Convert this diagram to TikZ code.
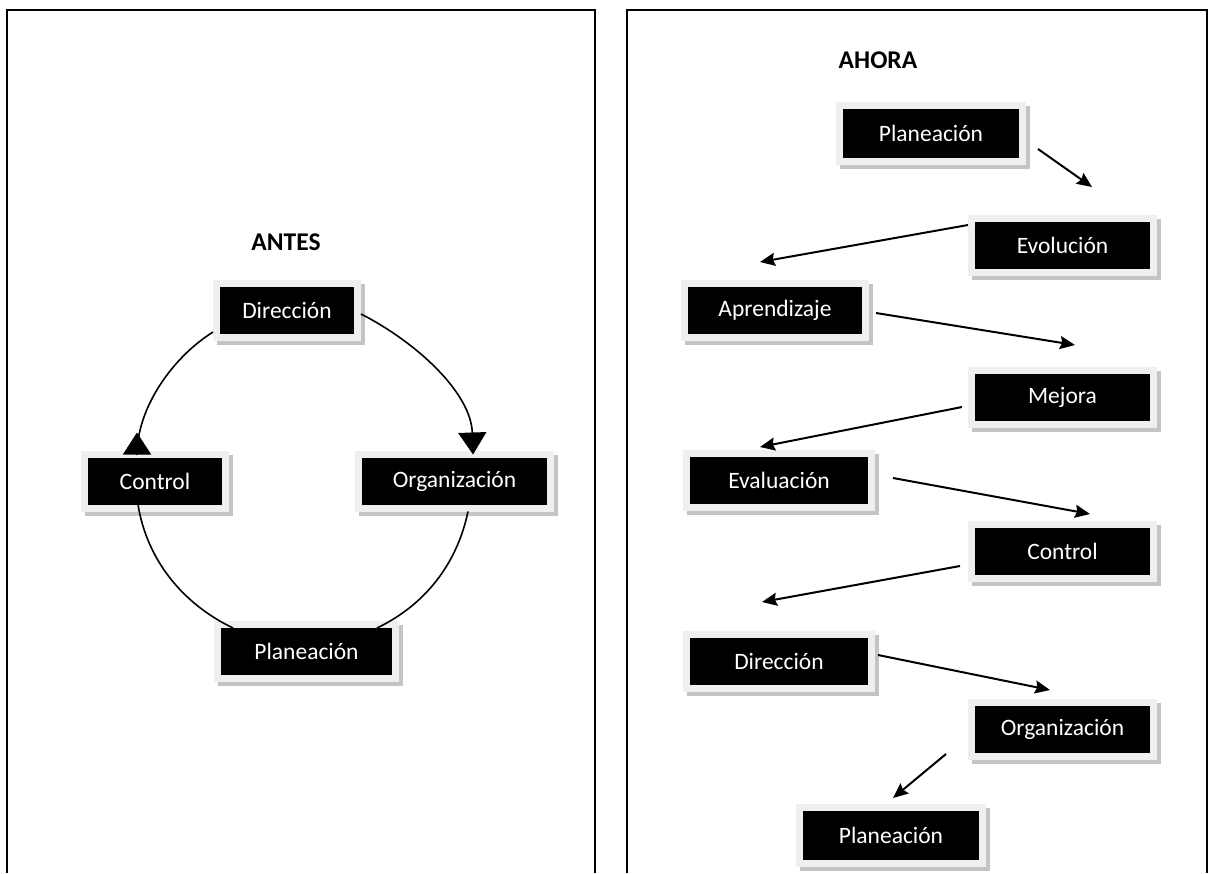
\documentclass[tikz,border=0pt]{standalone}
\usepackage{fontspec}
\setmainfont{Carlito}
\usetikzlibrary{arrows.meta,shadows}
\definecolor{framegray}{HTML}{EFEFEF}
\definecolor{shadowgray}{HTML}{C4C4C4}
\newcommand{\boxfont}{\fontsize{23.5}{28}\selectfont}
\newcommand{\headfont}{\fontsize{25.5}{30}\selectfont\bfseries}
\tikzset{
  bx/.style={fill=black, draw=framegray, line width=7pt, text=white,
    font=\boxfont, inner sep=0pt, minimum height=54pt,
    drop shadow={shadow xshift=4pt, shadow yshift=-4pt, fill=shadowgray,
      draw=shadowgray, line width=7pt, opacity=1}},
  title/.style={font=\headfont, inner sep=0pt},
  panel/.style={line width=2pt, draw=black},
  ring/.style={line width=1.6pt},
  bigtip/.style={-{Triangle[length=22pt,width=28pt]}},
  arr/.style={line width=2pt, -{Stealth[length=15pt,width=13pt,inset=2pt]}}
}
\begin{document}
\begin{tikzpicture}[x=1pt,y=-1pt]
\useasboundingbox (0,0) rectangle (1215,873);

% panel frames, open at the bottom
\draw[panel] (7,873) -- (7,10) -- (595,10) -- (595,873);
\draw[panel] (627,873) -- (627,10) -- (1207,10) -- (1207,873);

% ---- left panel: the old cycle ----
\node[title] (antes) at (286,242) {ANTES};
\node[bx, minimum width=141pt] (dir) at (287,310) {Dirección};
\node[bx, minimum width=141pt] (ctl) at (155,481) {Control};
\node[bx, minimum width=192pt] (org) at (454.5,481) {Organización};
\node[bx, minimum width=178pt] (pla) at (306.5,651.5) {Planeación};

\coordinate (ctltop) at ([xshift=-18pt,yshift=-4pt]ctl.north);
\draw[ring] ([yshift=-22pt]dir.west)
  .. controls +(-42.5,26.8) and +(0,-45) .. (ctltop);
% the head on Control points upwards, back towards Dirección
\draw[ring, bigtip] (ctltop) -- ++(0,-22);
\draw[ring, bigtip] ([yshift=-4pt]dir.east)
  .. controls +(55,28) and +(-2,-62) .. ([xshift=18.5pt,yshift=-4pt]org.north);
\draw[ring] ([xshift=-17pt,yshift=7pt]ctl.south)
  .. controls +(8.9,55.5) and +(-50.2,-24.1) .. ([xshift=-73.5pt,yshift=-7pt]pla.north);
\draw[ring] ([xshift=13.5pt]org.south)
  .. controls +(-11.1,53) and +(47.5,-22.8) .. ([xshift=70.5pt,yshift=-7pt]pla.north);

% ---- right panel: the new sequence ----
\node[title] (ahora) at (878,60) {AHORA};
\node[bx, minimum width=183pt, minimum height=56pt] (p1) at (931,133.5) {Planeación};
\node[bx, minimum width=182pt] (evo) at (1062.5,245) {Evolución};
\node[bx, minimum width=181pt] (apr) at (775,310) {Aprendizaje};
\node[bx, minimum width=182pt] (mej) at (1062.5,397) {Mejora};
\node[bx, minimum width=185pt] (eva) at (779,480) {Evaluación};
\node[bx, minimum width=182pt] (ctl2) at (1062.5,551) {Control};
\node[bx, minimum width=185pt] (dir2) at (779,661) {Dirección};
\node[bx, minimum width=182pt] (org2) at (1062.5,729) {Organización};
\node[bx, minimum width=183pt, minimum height=56pt] (pla2) at (891,835.5) {Planeación};

\coordinate (t1) at (1092,187);
\coordinate (t2) at (760,262);
\coordinate (t3) at (1075,345);
\coordinate (t4) at (760,447);
\coordinate (t5) at (1090,514);
\coordinate (t6) at (762,602);
\coordinate (t7) at (1050,690);
\coordinate (t8) at (893,798);

\draw[arr] ([shift={(107,15.5)}]p1.center) -- (t1);
\draw[arr] ([shift={(-94.5,-20)}]evo.center) -- (t2);
\draw[arr] ([shift={(101,3)}]apr.center) -- (t3);
\draw[arr] ([shift={(-100.5,10)}]mej.center) -- (t4);
\draw[arr] ([shift={(114,-2)}]eva.center) -- (t5);
\draw[arr] ([shift={(-102.5,15)}]ctl2.center) -- (t6);
\draw[arr] ([shift={(99,-6)}]dir2.center) -- (t7);
\draw[arr] ([shift={(-116.5,25)}]org2.center) -- (t8);
\end{tikzpicture}
\end{document}
